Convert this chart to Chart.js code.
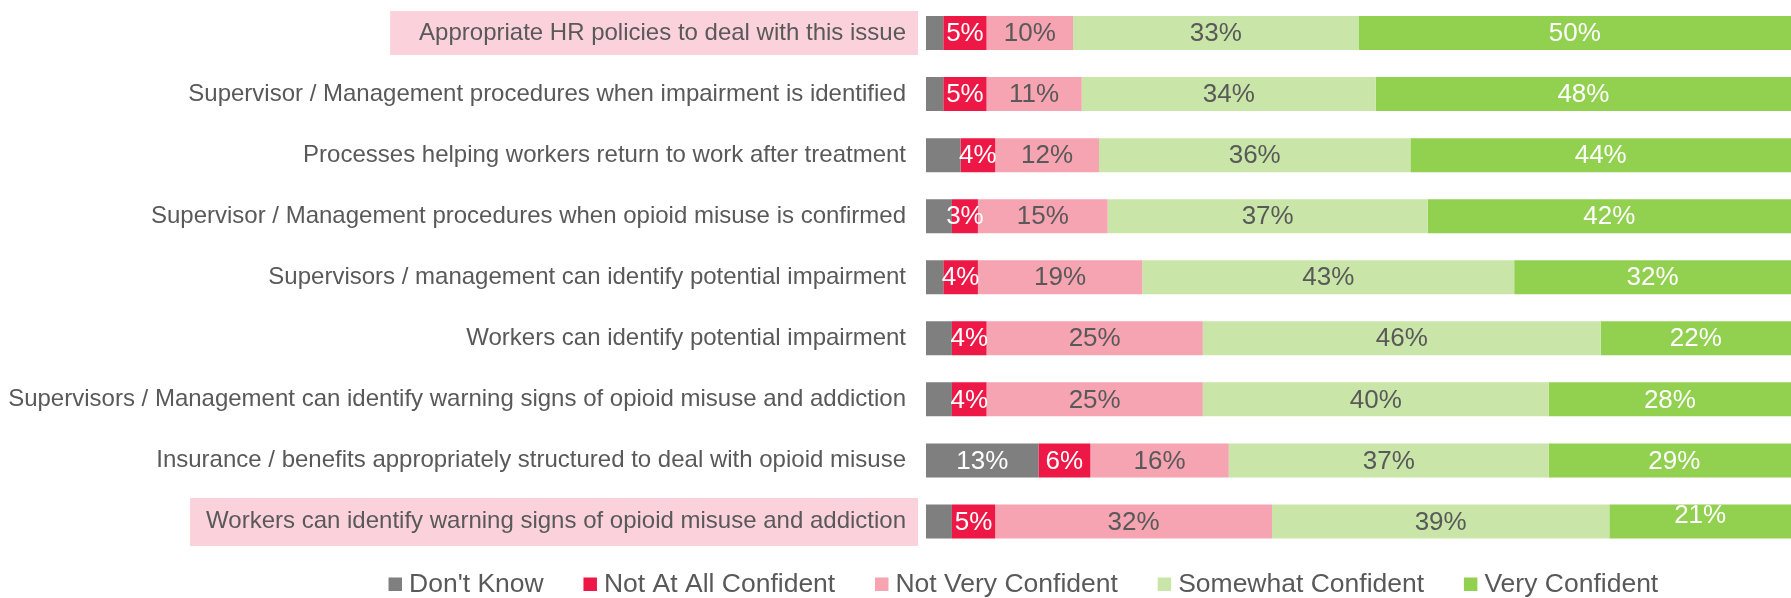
<!DOCTYPE html>
<html>
<head>
<meta charset="utf-8">
<title>Confidence in workplace opioid readiness</title>
<script src="https://cdn.jsdelivr.net/npm/chart.js@4.4.1/dist/chart.umd.min.js"></script>
<style>
  html, body { margin: 0; padding: 0; background: #ffffff; }
  #wrap { width: 1791px; height: 598px; }
  canvas { display: block; }
</style>
</head>
<body>
<div id="wrap"><canvas id="chart" width="1791" height="598"></canvas></div>
<script>
// Survey items, top to bottom
const categories = [
  "Appropriate HR policies to deal with this issue",
  "Supervisor / Management procedures when impairment is identified",
  "Processes helping workers return to work after treatment",
  "Supervisor / Management procedures when opioid misuse is confirmed",
  "Supervisors / management can identify potential impairment",
  "Workers can identify potential impairment",
  "Supervisors / Management can identify warning signs of opioid misuse and addiction",
  "Insurance / benefits appropriately structured to deal with opioid misuse",
  "Workers can identify warning signs of opioid misuse and addiction"
];

// Response shares (%)
const dontKnow      = [2, 2, 4, 3, 2, 3, 3, 13, 3];
const notAtAll      = [5, 5, 4, 3, 4, 4, 4, 6, 5];
const notVery       = [10, 11, 12, 15, 19, 25, 25, 16, 32];
const somewhat      = [33, 34, 36, 37, 43, 46, 40, 37, 39];
const veryConfident = [50, 48, 44, 42, 32, 22, 28, 29, 21];

const seriesNames = ["Don't Know", "Not At All Confident", "Not Very Confident", "Somewhat Confident", "Very Confident"];

const FONT_FAMILY = '"Liberation Sans", Arial, Helvetica, sans-serif';
const TEXT_GREY = '#595959';
const TICK_SIZE = 24;
const TICK_PADDING = 20;

// Percent labels centred on each stacked segment
const segmentLabels = {
  id: 'segmentLabels',
  afterDatasetsDraw(chart) {
    const ctx = chart.ctx;
    ctx.save();
    ctx.font = '26px ' + FONT_FAMILY;
    ctx.textAlign = 'center';
    ctx.textBaseline = 'middle';
    chart.data.datasets.forEach((ds, di) => {
      const meta = chart.getDatasetMeta(di);
      if (meta.hidden) return;
      meta.data.forEach((bar, i) => {
        const v = ds.data[i];
        if (v < (ds.labelMin || 0)) return;
        const p = bar.getProps(['x', 'y', 'base'], true);
        const nudge = (ds.labelNudge && ds.labelNudge[i]) || 0;
        ctx.fillStyle = ds.labelColor;
        ctx.fillText(v + '%', (p.x + p.base) / 2, p.y + 1 + nudge);
      });
    });
    ctx.restore();
  }
};

// Pink call-out boxes behind selected axis labels
const labelHighlight = {
  id: 'labelHighlight',
  beforeDraw(chart, args, opts) {
    const yScale = chart.scales.y;
    const ctx = chart.ctx;
    ctx.save();
    ctx.font = TICK_SIZE + 'px ' + FONT_FAMILY;
    ctx.fillStyle = opts.color;
    opts.rows.forEach(r => {
      const cy = yScale.getPixelForValue(r.index);
      const textW = ctx.measureText(categories[r.index]).width;
      const right = yScale.right - 8;
      const left = yScale.right - TICK_PADDING - textW - r.padLeft;
      ctx.fillRect(left, cy - r.height / 2 + (r.dy || 0), right - left, r.height);
    });
    ctx.restore();
  }
};

// Legend sits under the bars, offset toward the label column
const legendPlacement = {
  id: 'legendPlacement',
  afterLayout(chart, args, opts) {
    const lg = chart.legend;
    if (!lg) return;
    lg.left += opts.dx;
    lg.right += opts.dx;
    lg.top += opts.dy;
  }
};

const chart = new Chart(document.getElementById('chart'), {
  type: 'bar',
  data: {
    labels: categories,
    datasets: [
      { label: seriesNames[0], data: dontKnow,      backgroundColor: '#7f7f7f', labelColor: '#ffffff', labelMin: 10 },
      { label: seriesNames[1], data: notAtAll,      backgroundColor: '#ee1846', labelColor: '#ffffff' },
      { label: seriesNames[2], data: notVery,       backgroundColor: '#f6a3b2', labelColor: TEXT_GREY },
      { label: seriesNames[3], data: somewhat,      backgroundColor: '#c9e6a8', labelColor: TEXT_GREY },
      { label: seriesNames[4], data: veryConfident, backgroundColor: '#92d050', labelColor: '#ffffff',
        labelNudge: [0, 0, 0, 0, 0, 0, 0, 0, -7] }
    ]
  },
  options: {
    indexAxis: 'y',
    responsive: false,
    animation: false,
    devicePixelRatio: 1,
    layout: { padding: { top: 2.5, left: 0, right: 0, bottom: 0 } },
    datasets: {
      bar: { barPercentage: 0.557, categoryPercentage: 1, borderWidth: 0 }
    },
    scales: {
      x: {
        stacked: true,
        min: 0,
        max: 100,
        display: false
      },
      y: {
        stacked: true,
        grid: { display: false, drawTicks: false },
        border: { display: false },
        ticks: {
          color: TEXT_GREY,
          padding: TICK_PADDING,
          font: { family: FONT_FAMILY, size: TICK_SIZE }
        },
        afterFit(scale) {
          scale.width = 926;
          scale.paddingTop = 0;
          scale.paddingBottom = 0;
        }
      }
    },
    plugins: {
      tooltip: { enabled: false },
      legend: {
        position: 'bottom',
        align: 'center',
        maxHeight: 46,
        labels: {
          color: TEXT_GREY,
          font: { family: FONT_FAMILY, size: 26.5 },
          usePointStyle: true,
          pointStyle: 'rect',
          boxWidth: 1,
          boxHeight: 13.5,
          padding: 46
        }
      },
      legendPlacement: { dx: 131, dy: -27 },
      labelHighlight: {
        color: '#fbd2db',
        rows: [
          { index: 0, padLeft: 29, height: 44, dy: 0 },
          { index: 8, padLeft: 16, height: 48, dy: 0.5 }
        ]
      }
    }
  },
  plugins: [labelHighlight, segmentLabels, legendPlacement]
});
</script>
</body>
</html>
